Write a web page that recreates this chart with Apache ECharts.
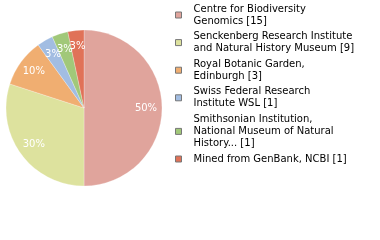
<!DOCTYPE html>
<html><head><meta charset="utf-8">
<script src="https://cdn.jsdelivr.net/npm/echarts@6/dist/echarts.min.js"></script>
<style>html,body{margin:0;padding:0;background:#fff}#c{width:380px;height:240px}</style>
</head><body><div id="c"></div>
<script>
var categories = ["Centre for Biodiversity\nGenomics", "Senckenberg Research Institute\nand Natural History Museum", "Royal Botanic Garden,\nEdinburgh", "Swiss Federal Research\nInstitute WSL", "Smithsonian Institution,\nNational Museum of Natural\nHistory...", "Mined from GenBank, NCBI"];
var values = [15, 9, 3, 1, 1, 1];
var colors = ["#e0a49c", "#dde29e", "#f0ae71", "#a2bde2", "#a1c879", "#e07258"];
var total = values.reduce(function(a, b){ return a + b; }, 0);
var data = categories.map(function(n, i){ return {name: n, value: values[i]}; });
var chart = echarts.init(document.getElementById('c'), null, {renderer: 'canvas'});
chart.setOption({
  animation: false,
  color: colors,
  legend: {
    orient: 'vertical', left: 175, top: 3, itemGap: 3.6, padding: 0,
    itemWidth: 6, itemHeight: 6, icon: 'rect',
    itemStyle: {borderColor: '#777', borderWidth: 1},
    formatter: function(name){ return name + ' [' + values[categories.indexOf(name)] + ']'; },
    textStyle: {fontFamily: 'DejaVu Sans', fontSize: 10, color: '#000', lineHeight: 12, padding: [0,0,0,7]},
    selectedMode: false
  },
  series: [{
    type: 'pie', center: [84, 108], radius: [0, 78], startAngle: 90, clockwise: true,
    silent: true,
    itemStyle: {borderColor: 'rgba(255,255,255,0.5)', borderWidth: 0.5},
    label: {show: false}, labelLine: {show: false},
    data: data
  }, {
    type: 'pie', center: [84, 108], radius: [40, 78], startAngle: 90, clockwise: true,
    silent: true, legendHoverLink: false, avoidLabelOverlap: false,
    labelLayout: {hideOverlap: false},
    itemStyle: {color: 'rgba(0,0,0,0)', borderWidth: 0},
    label: {show: true, position: 'inside', color: '#fff', fontFamily: 'DejaVu Sans', fontSize: 10,
      formatter: function(p){ return Math.round(p.value / total * 100) + '%'; }},
    labelLine: {show: false},
    data: data
  }]
});
</script></body></html>
